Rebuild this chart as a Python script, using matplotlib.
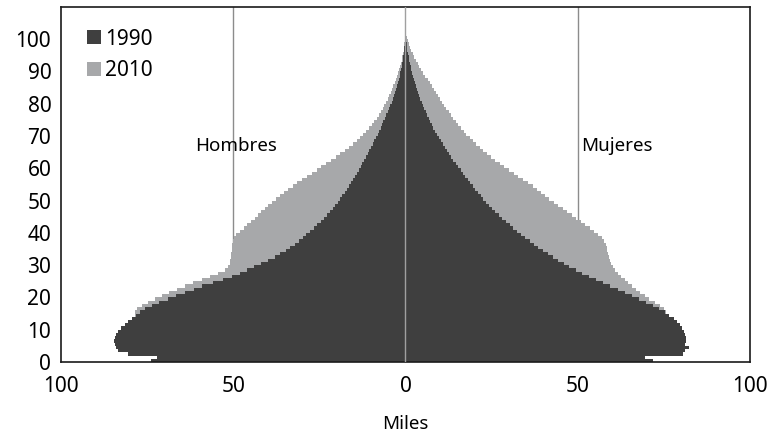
import numpy as np
import matplotlib
matplotlib.use('Agg')
import matplotlib.pyplot as plt

plt.rcParams['font.family'] = ['Noto Sans', 'DejaVu Sans']

# Single ages 0..100, population in thousands
ages = list(range(0, 101))

hombres_1990 = [
    74, 72, 80.5, 83.5, 84, 84.3, 84.5, 84.3, 84, 83.5,
    82.5, 81.5, 80.5, 79.5, 78.2, 77, 75.5, 73.5, 71.5, 69,
    66.5, 64, 61.5, 59, 56, 53, 50.5, 48, 46, 44,
    42, 40, 38, 36.3, 34.8, 33.4, 32.1, 30.9, 29.8, 28.8,
    27.6, 26.6, 25.6, 24.6, 23.6, 22.7, 21.9, 21.1, 20.4, 19.7,
    19, 18.3, 17.6, 17, 16.4, 15.8, 15.2, 14.6, 14.1, 13.6,
    13, 12.5, 12, 11.5, 11, 10.5, 10, 9.5, 9, 8.6,
    8.1, 7.7, 7.2, 6.8, 6.4, 6, 5.6, 5.2, 4.8, 4.4,
    4, 3.7, 3.4, 3.1, 2.8, 2.5, 2.2, 1.9, 1.7, 1.5,
    1.3, 1.1, 0.9, 0.75, 0.6, 0.5, 0.4, 0.3, 0.2, 0.15,
    0.1]

mujeres_1990 = [
    71.8, 69.5, 80.5, 81, 82.3, 81.2, 81.5, 81.5, 81.2, 80.8,
    80.3, 79.6, 78.8, 77.8, 76.6, 75.2, 73.6, 71.8, 69.8, 67.8,
    65.8, 63.7, 61.6, 59.5, 57.4, 55.3, 53.3, 51.3, 49.4, 47.6,
    45.9, 44.3, 42.8, 41.3, 39.9, 38.6, 37.3, 36, 34.8, 33.6,
    32.4, 31.3, 30.2, 29.1, 28.1, 27.1, 26.1, 25.2, 24.3, 23.4,
    22.6, 21.8, 21, 20.2, 19.5, 18.8, 18.1, 17.4, 16.7, 16,
    15.3, 14.6, 13.9, 13.2, 12.6, 12, 11.4, 10.8, 10.2, 9.6,
    9.1, 8.6, 8.1, 7.6, 7.1, 6.7, 6.3, 5.9, 5.5, 5.1,
    4.7, 4.3, 3.9, 3.6, 3.3, 3, 2.7, 2.4, 2.1, 1.9,
    1.7, 1.5, 1.3, 1.1, 0.9, 0.7, 0.55, 0.4, 0.3, 0.2,
    0.15]

hombres_2010 = [
    64, 65, 66, 67, 68, 69, 70, 71, 72, 73,
    74, 75, 76.5, 78, 78.6, 78.6, 77.8, 76.5, 74.8, 72.8,
    70.7, 68.6, 66.4, 64.1, 61.7, 59.2, 56.7, 54.3, 52.4, 51.4,
    51, 50.8, 50.7, 50.6, 50.5, 50.5, 50.4, 50.2, 49.8, 49.1,
    48.1, 47, 45.9, 44.8, 43.8, 42.8, 41.8, 40.8, 39.8, 38.7,
    37.6, 36.4, 35.2, 34, 32.7, 31.4, 30, 28.6, 27.2, 25.8,
    24.4, 23, 21.6, 20.2, 18.9, 17.6, 16.4, 15.3, 14.2, 13.2,
    12.3, 11.4, 10.6, 9.8, 9.1, 8.4, 7.8, 7.2, 6.6, 6.1,
    5.6, 5.1, 4.7, 4.3, 3.9, 3.5, 3.1, 2.8, 2.5, 2.2,
    1.9, 1.6, 1.3, 1.1, 0.9, 0.7, 0.5, 0.4, 0.3, 0.2,
    0.15]

mujeres_2010 = [
    62, 63, 64, 65, 66, 67, 68, 69, 70, 71,
    72, 73, 74, 74.8, 75.5, 75.6, 75, 73.8, 72.3, 70.8,
    69.4, 68.1, 66.9, 65.7, 64.6, 63.6, 62.6, 61.7, 60.9, 60.2,
    59.7, 59.3, 59, 58.8, 58.6, 58.4, 58.1, 57.6, 56.9, 56,
    54.8, 53.5, 52.2, 50.9, 49.6, 48.3, 47, 45.7, 44.4, 43.1,
    41.8, 40.6, 39.4, 38.2, 36.9, 35.6, 34.2, 32.8, 31.4, 30,
    28.6, 27.3, 26, 24.8, 23.6, 22.5, 21.5, 20.5, 19.5, 18.6,
    17.7, 16.9, 16.1, 15.3, 14.6, 13.9, 13.2, 12.5, 11.8, 11.2,
    10.6, 10, 9.4, 8.8, 8.2, 7.6, 7, 6.4, 5.8, 5.2,
    4.6, 4, 3.5, 3, 2.5, 2.1, 1.7, 1.3, 1, 0.7,
    0.5]

x_ticks = [-100, -50, 0, 50, 100]
x_labels = ['100', '50', '0', '50', '100']
y_ticks = list(range(0, 101, 10))

c1990 = '#3f3f3f'
c2010 = '#a7a8aa'

fig = plt.figure(figsize=(7.7, 4.34), dpi=100)
ax = fig.add_axes([0.0792, 0.166, 0.8948, 0.818])

# grid lines for 50 behind the bars
for v in (-50, 50):
    ax.axvline(v, color='#8c8c8c', linewidth=1.0, zorder=0)

ax.barh(ages, [-v for v in hombres_2010], height=1, align='edge', color=c2010, linewidth=0, zorder=1, label='2010')
ax.barh(ages, mujeres_2010, height=1, align='edge', color=c2010, linewidth=0, zorder=1)
ax.barh(ages, [-v for v in hombres_1990], height=1, align='edge', color=c1990, linewidth=0, zorder=2, label='1990')
ax.barh(ages, mujeres_1990, height=1, align='edge', color=c1990, linewidth=0, zorder=2)

ax.axvline(0, color='#a0a0a0', linewidth=1.0, zorder=3)

ax.set_xlim(-100, 100)
ax.set_ylim(0, 110)
ax.set_xticks(x_ticks)
ax.set_xticklabels(x_labels)
ax.set_yticks(y_ticks)
ax.tick_params(length=0, labelsize=15, pad=7)
ax.tick_params(axis='x', pad=10)

for s in ax.spines.values():
    s.set_color('#1a1a1a')
    s.set_linewidth(1.2)

ax.text(-49.3, 67, 'Hombres', ha='center', va='center', fontsize=13.5)
ax.text(61.5, 67, 'Mujeres', ha='center', va='center', fontsize=13.5)
ax.set_xlabel('Miles', fontsize=13.5, labelpad=13)

h, l = ax.get_legend_handles_labels()
ax.legend(h[::-1], l[::-1], loc='upper left', bbox_to_anchor=(0.026, 0.962), frameon=False,
          fontsize=15, handlelength=0.65, handleheight=0.65, handletextpad=0.2, labelspacing=0.5,
          borderaxespad=0)

fig.savefig('out.png', dpi=100)
